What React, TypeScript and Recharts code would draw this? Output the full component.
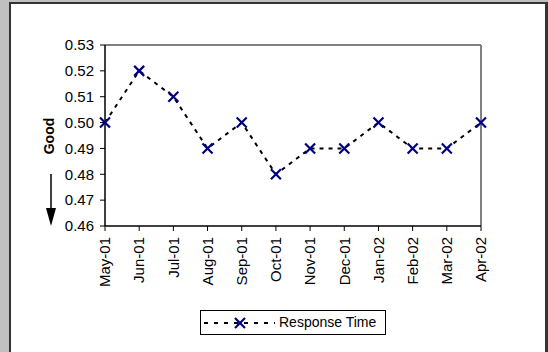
import React from "react";
import { LineChart, Line, XAxis, YAxis, ReferenceLine } from "recharts";

const months = ["May-01", "Jun-01", "Jul-01", "Aug-01", "Sep-01", "Oct-01", "Nov-01", "Dec-01", "Jan-02", "Feb-02", "Mar-02", "Apr-02"];
const responseTime = [0.5, 0.52, 0.51, 0.49, 0.5, 0.48, 0.49, 0.49, 0.5, 0.49, 0.49, 0.5];
const yTicks = [0.46, 0.47, 0.48, 0.49, 0.5, 0.51, 0.52, 0.53];

const data = months.map((m, i) => ({ month: m, value: responseTime[i] }));

const FONT = "'Liberation Sans', Arial, sans-serif";
const NAVY = "#000080";

function Cross({ cx, cy, size = 5 }: any) {
  if (cx == null || cy == null) return null;
  return (
    <g>
      <line x1={cx - size} y1={cy - size} x2={cx + size} y2={cy + size} stroke={NAVY} strokeWidth={2.2} />
      <line x1={cx - size} y1={cy + size} x2={cx + size} y2={cy - size} stroke={NAVY} strokeWidth={2.2} />
    </g>
  );
}

function MonthTick({ x, y, payload }: any) {
  return (
    <g transform={`translate(${x},${y})`}>
      <text transform="rotate(-90)" x={-4} y={0} dy="0.35em" textAnchor="end" fontSize={15} fontFamily={FONT} fill="#000">
        {payload.value}
      </text>
    </g>
  );
}

function GoodLabel() {
  return (
    <g>
      <text transform="translate(54,136) rotate(-90)" textAnchor="middle" fontSize={14} fontWeight="bold" fontFamily={FONT} fill="#000">
        Good
      </text>
      <line x1={51} y1={174} x2={51} y2={210} stroke="#000" strokeWidth={1.5} />
      <polygon points="46,208 56,208 51,226" fill="#000" />
    </g>
  );
}

export default function App() {
  return (
    <div style={{ position: "fixed", left: 0, top: 0, width: 548, height: 352, background: "#c0c0c0", overflow: "hidden" }}>
      <div
        style={{
          position: "absolute",
          left: 9,
          top: 2,
          width: 539,
          height: 360,
          background: "#fff",
          borderLeft: "2px solid #333",
          borderTop: "2px solid #333",
          borderRight: "3px solid #333",
          boxSizing: "border-box",
        }}
      />
      <div style={{ position: "absolute", left: 0, top: 0 }}>
        <LineChart width={548} height={352} data={data} margin={{ top: 45, right: 67, left: 45, bottom: 66 }}>
          <ReferenceLine y={0.53} stroke="#808080" strokeWidth={2} />
          <ReferenceLine x="Apr-02" stroke="#808080" strokeWidth={2} />
          <XAxis
            dataKey="month"
            interval={0}
            height={60}
            tickSize={5}
            tick={<MonthTick />}
            axisLine={{ stroke: "#000", strokeWidth: 1.5 }}
            tickLine={{ stroke: "#000" }}
          />
          <YAxis
            type="number"
            width={60}
            domain={[0.46, 0.53]}
            ticks={yTicks}
            allowDataOverflow
            tickFormatter={(v: number) => v.toFixed(2)}
            tickSize={5}
            tickMargin={6}
            tick={{ fontSize: 15, fontFamily: FONT, fill: "#000" }}
            axisLine={{ stroke: "#000", strokeWidth: 1.5 }}
            tickLine={{ stroke: "#000" }}
            label={<GoodLabel />}
          />
          <Line
            type="linear"
            dataKey="value"
            stroke="#000"
            strokeWidth={2}
            strokeDasharray="4 5"
            dot={<Cross />}
            activeDot={false}
            isAnimationActive={false}
          />
        </LineChart>
      </div>
      <div
        style={{
          position: "absolute",
          left: 200,
          top: 310,
          width: 186,
          height: 25,
          border: "1px solid #000",
          background: "#fff",
          boxSizing: "border-box",
          fontFamily: FONT,
          fontSize: 14,
          color: "#000",
        }}
      >
        <svg width={76} height={23} style={{ position: "absolute", left: 0, top: 0 }}>
          <line x1={3} y1={12} x2={74} y2={12} stroke="#000" strokeWidth={2} strokeDasharray="4 6" />
          <Cross cx={39} cy={12} />
        </svg>
        <span style={{ position: "absolute", left: 78, top: 3, whiteSpace: "nowrap" }}>Response Time</span>
      </div>
    </div>
  );
}
